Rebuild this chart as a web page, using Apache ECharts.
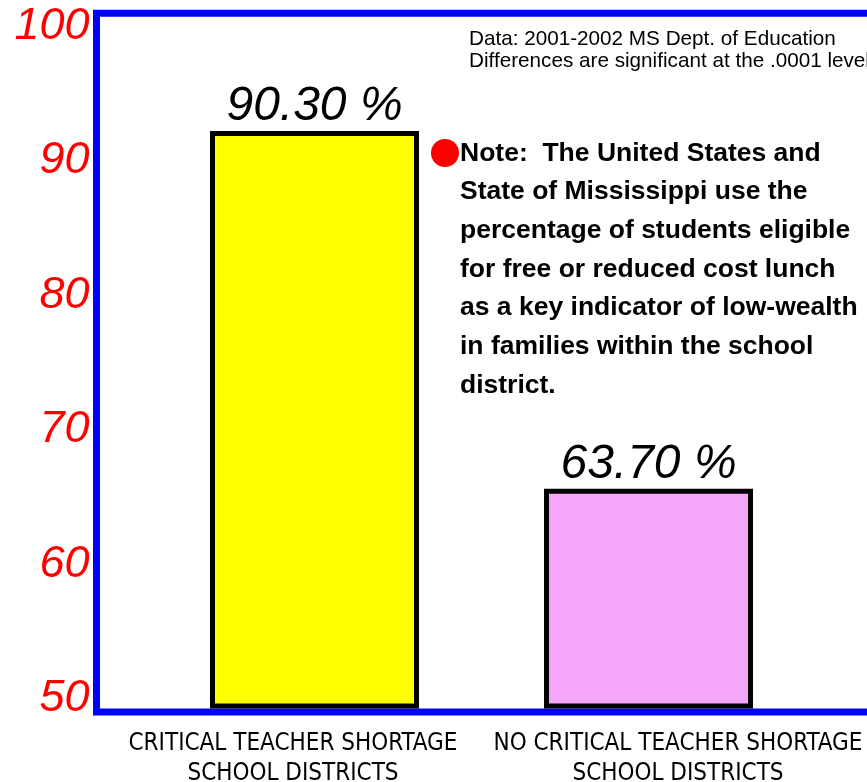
<!DOCTYPE html>
<html>
<head>
<meta charset="utf-8">
<script src="https://cdn.jsdelivr.net/npm/echarts@6/dist/echarts.min.js"></script>
<style>html,body{margin:0;padding:0;background:#fff;}#chart{width:867px;height:782px;}</style>
</head>
<body>
<div id="chart"></div>
<script>
const categories = ['CRITICAL TEACHER SHORTAGE\nSCHOOL DISTRICTS', 'NO CRITICAL TEACHER SHORTAGE\nSCHOOL DISTRICTS'];
const values = [90.3, 63.7];
const yTicks = [50, 60, 70, 80, 90, 100];
const sourceLines = ['Data: 2001-2002 MS Dept. of Education', 'Differences are significant at the .0001 level'];
const noteLines = [
  'Note:  The United States and',
  'State of Mississippi use the',
  'percentage of students eligible',
  'for free or reduced cost lunch',
  'as a key indicator of low-wealth',
  'in families within the school',
  'district.'
];

const chart = echarts.init(document.getElementById('chart'), null, {renderer: 'canvas'});
const barColors = ['#ffff00', '#f5a6fa'];

const series = values.map((v, i) => ({
  type: 'bar',
  xAxisIndex: 0,
  yAxisIndex: 0,
  data: categories.map((c, j) => (j === i ? v : '-')),
  barWidth: 209,
  barGap: '-124.4%',
  z: 3,
  itemStyle: {color: barColors[i], borderColor: '#000', borderWidth: 5},
  label: {
    show: true,
    position: 'top',
    distance: 0,
    formatter: p => p.value.toFixed(2) + ' %',
    fontFamily: 'Liberation Sans',
    fontStyle: 'italic',
    fontSize: 48,
    color: '#000'
  }
}));

chart.setOption({
  backgroundColor: '#fff',
  animation: false,
  grid: [
    {left: 96.5, right: 0.5, top: 0.5, bottom: 76, containLabel: false, outerBoundsMode: 'none'},
    {left: 96.5, top: 13.3, right: -40, bottom: 70, show: true, borderColor: '#0000ff', borderWidth: 7, backgroundColor: 'transparent', outerBoundsMode: 'none'}
  ],
  xAxis: [
    {
      type: 'category', gridIndex: 0, data: categories,
      axisLine: {show: false}, axisTick: {show: false}, splitLine: {show: false},
      axisLabel: {
        interval: 0, margin: 23, color: '#000',
        fontFamily: 'Liberation Sans Narrow, DejaVu Sans Condensed, Liberation Sans',
        fontSize: 24, lineHeight: 30, padding: [0, 0, 0, 8]
      }
    },
    {type: 'value', gridIndex: 1, show: false}
  ],
  yAxis: [
    {
      type: 'value', gridIndex: 0, min: 47.54, max: 100,
      axisLine: {show: false}, axisTick: {show: false}, splitLine: {show: false},
      axisLabel: {
        customValues: yTicks, margin: 7, color: '#ff0000',
        fontFamily: 'Liberation Sans', fontStyle: 'italic', fontSize: 45,
        verticalAlign: 'top', lineHeight: 52
      }
    },
    {type: 'value', gridIndex: 1, show: false}
  ],
  series: series,
  graphic: [
    {
      type: 'text', left: 469, top: 28, z: 10,
      style: {text: sourceLines.join('\n'), font: '20.7px "Liberation Sans"', lineHeight: 22, fill: '#000'}
    },
    {
      type: 'circle', shape: {cx: 445, cy: 153, r: 14}, z: 10,
      style: {fill: '#ff0000'}
    },
    {
      type: 'text', left: 460, top: 134, z: 10,
      style: {text: noteLines.join('\n'), font: 'bold 26.5px "Liberation Sans"', lineHeight: 38.7, fill: '#000'}
    }
  ]
});
</script>
</body>
</html>
